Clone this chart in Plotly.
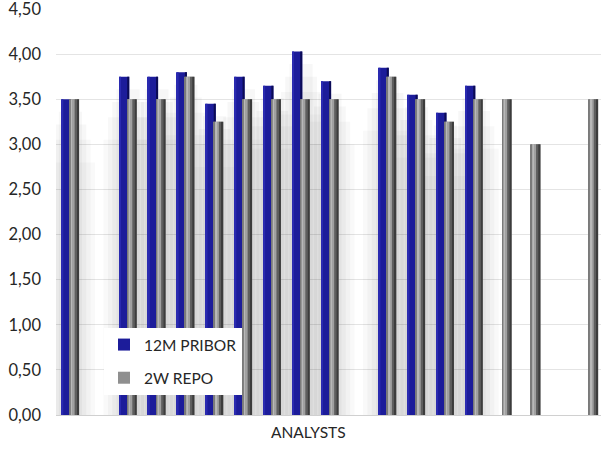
import plotly.graph_objects as go

# Forecasts by analyst (None = no forecast given)
analysts = [f"Analyst {i}" for i in range(1, 20)]
pribor_12m = [3.50, None, 3.75, 3.75, 3.80, 3.45, 3.75, 3.65, 4.03, 3.70,
              None, 3.85, 3.55, 3.35, 3.65, None, None, None, None]
repo_2w = [3.50, None, 3.50, 3.50, 3.75, 3.25, 3.50, 3.50, 3.50, 3.50,
           None, 3.75, 3.50, 3.25, 3.50, 3.50, 3.00, None, 3.50]

y_ticks = [0, 0.5, 1, 1.5, 2, 2.5, 3, 3.5, 4, 4.5]

FONT = "Lato, 'Open Sans', 'DejaVu Sans', sans-serif"
TEXT = "#262626"

fig = go.Figure()

# soft drop shadow behind the analyst pairs, built from stacked translucent layers
for w, dh, a in [(1.7, 0.7, 0.03), (1.4, 0.45, 0.035), (1.1, 0.28, 0.04), (0.8, 0.14, 0.04)]:
    fig.add_trace(go.Bar(
        x=analysts, y=[None if v is None else v - dh for v in pribor_12m],
        width=w, offset=-w / 2,
        marker=dict(color=f"rgba(60,60,60,{a})", line=dict(width=0)),
        showlegend=False, hoverinfo="skip"))

B_OFF, B_W = -0.31, 0.35
G_OFF, G_W = -0.03, 0.33


def shaded_bar(values, name, off, width, base_color, strips, group):
    fig.add_trace(go.Bar(
        x=analysts, y=values, name=name, offset=off, width=width,
        marker=dict(color=base_color, line=dict(width=0)),
        legendgroup=group))
    for start, frac, col in strips:
        fig.add_trace(go.Bar(
            x=analysts, y=values, offset=off + start * width, width=frac * width,
            marker=dict(color=col, line=dict(width=0)),
            showlegend=False, legendgroup=group, hoverinfo="skip"))


shaded_bar(pribor_12m, "12M PRIBOR", B_OFF, B_W, "#1c1c9a",
           [(0.0, 0.18, "#2a2ab0"), (0.80, 0.20, "#0b0b55")], "a")
shaded_bar(repo_2w, "2W REPO", G_OFF, G_W, "#8f8f8f",
           [(0.0, 0.14, "#7a7a7a"), (0.14, 0.22, "#b8b8b8"),
            (0.36, 0.18, "#a0a0a0"), (0.54, 0.22, "#5e5e5e"),
            (0.76, 0.24, "#3c3c3c")], "b")

fig.add_annotation(text="ANALYSTS", xref="paper", yref="paper",
                   x=(308 - 56) / 545, y=-0.068, showarrow=False,
                   font=dict(family=FONT, size=15.5, color=TEXT))

fig.update_layout(
    width=601, height=454,
    margin=dict(l=56, r=0, t=9, b=39),
    paper_bgcolor="white", plot_bgcolor="white",
    barmode="overlay", separators=", ",
    font=dict(family=FONT, size=15, color=TEXT),
    legend=dict(x=(104 - 56) / 545, y=(415 - 328) / 406,
                xanchor="left", yanchor="top",
                bgcolor="white", borderwidth=0,
                traceorder="grouped", tracegroupgap=10,
                font=dict(family=FONT, size=15.5, color=TEXT)),
    xaxis=dict(range=[-0.5, 18.4], showticklabels=False, showgrid=False,
               zeroline=False, showline=False, ticks=""),
    yaxis=dict(range=[0, 4.5], tickvals=y_ticks, tickformat=".2f",
               showgrid=True, gridcolor="#e4e4e4", gridwidth=1,
               zeroline=True, zerolinecolor="#d0d0d0", zerolinewidth=1,
               showline=False, ticks="", ticklabelstandoff=14,
               ticklabeloverflow="allow",
               tickfont=dict(family=FONT, size=16.5, color=TEXT)),
)

fig.write_html("out.html")
